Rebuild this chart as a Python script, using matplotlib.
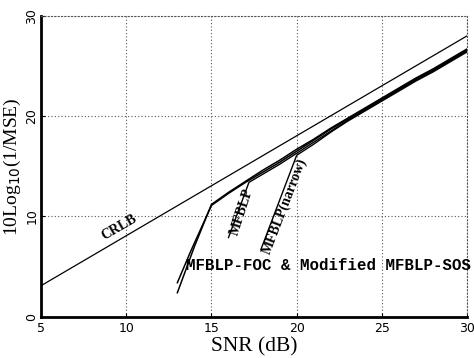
import matplotlib
matplotlib.use("Agg")
import matplotlib.pyplot as plt

# CRLB (прямая)
crlb_snr = [5, 30]
crlb_val = [3.1, 28.0]

# MFBLP-FOC
foc_snr = [13, 14, 15, 16, 17, 18, 19, 20, 21, 22, 23, 24, 25, 26, 27, 28, 29, 30]
foc_val = [2.4, 7.0, 11.2, 12.4, 13.5, 14.6, 15.6, 16.7, 17.7, 18.8, 19.8, 20.8,
           21.8, 22.8, 23.8, 24.7, 25.7, 26.7]

# Modified MFBLP-SOS
sos_snr = [13, 13.8, 15, 16, 17, 18, 19, 20, 21, 22, 23, 24, 25, 26, 27, 28, 29, 30]
sos_val = [3.4, 6.6, 11.1, 12.3, 13.4, 14.4, 15.4, 16.5, 17.6, 18.7, 19.7, 20.7,
           21.7, 22.7, 23.7, 24.6, 25.6, 26.6]

# MFBLP
mfblp_snr = [16, 17.2, 18, 19, 20, 21, 22, 23, 24, 25, 26, 27, 28, 29, 30]
mfblp_val = [7.9, 13.4, 14.2, 15.2, 16.3, 17.4, 18.5, 19.6, 20.6, 21.6, 22.6,
             23.6, 24.5, 25.5, 26.5]

# MFBLP(narrow)
narrow_snr = [17.9, 20, 21, 22, 23, 24, 25, 26, 27, 28, 29, 30]
narrow_val = [6.7, 16.1, 17.2, 18.4, 19.5, 20.5, 21.5, 22.5, 23.5, 24.4, 25.4, 26.4]

x_ticks = [5, 10, 15, 20, 25, 30]
y_ticks = [0, 10, 20, 30]

fig = plt.figure(figsize=(4.74, 3.58), dpi=100)
ax = fig.add_axes([0.0865, 0.115, 0.899, 0.841])

ax.plot(crlb_snr, crlb_val, color="black", lw=0.9)
ax.plot(foc_snr, foc_val, color="black", lw=1.1)
ax.plot(sos_snr, sos_val, color="black", lw=1.1)
ax.plot(mfblp_snr, mfblp_val, color="black", lw=1.0)
ax.plot(narrow_snr, narrow_val, color="black", lw=1.0)

ax.set_xlim(5, 30)
ax.set_ylim(0, 30)
ax.set_xticks(x_ticks)
ax.set_yticks(y_ticks)
ax.grid(True, linestyle=(0, (1, 2)), color="#555555", lw=0.8)
ax.tick_params(direction="in", length=3, labelsize=9)
ax.tick_params(axis="y", pad=2)
for lbl in ax.get_yticklabels():
    lbl.set_rotation(90)
    lbl.set_va("center")

for s in ["top", "right"]:
    ax.spines[s].set_linestyle((0, (1, 2)))
    ax.spines[s].set_linewidth(0.8)
    ax.spines[s].set_color("#555555")
for s in ["left", "bottom"]:
    ax.spines[s].set_linewidth(2.0)

serif = "Liberation Serif"
ax.set_xlabel("SNR (dB)", family=serif, fontsize=15.5, labelpad=2)
ax.set_ylabel(r"10Log$_{10}$(1/MSE)", family=serif, fontsize=14)
ax.yaxis.set_label_coords(-0.043, 0.5)

mono = "Liberation Mono"
ax.text(9.6, 8.9, "CRLB", family=serif, fontsize=10, fontweight="bold",
        rotation=30, ha="center", va="center")
ax.text(16.8, 10.5, "MFBLP", family=serif, fontsize=10, fontweight="bold",
        rotation=72, ha="center", va="center")
ax.text(19.3, 11.0, "MFBLP(narrow)", family=serif, fontsize=10,
        fontweight="bold", rotation=69, ha="center", va="center")
ax.text(13.5, 5.1, "MFBLP-FOC & Modified MFBLP-SOS", family=mono,
        fontsize=11.3, fontweight="bold", ha="left", va="center")

fig.savefig("out.png", dpi=100)
